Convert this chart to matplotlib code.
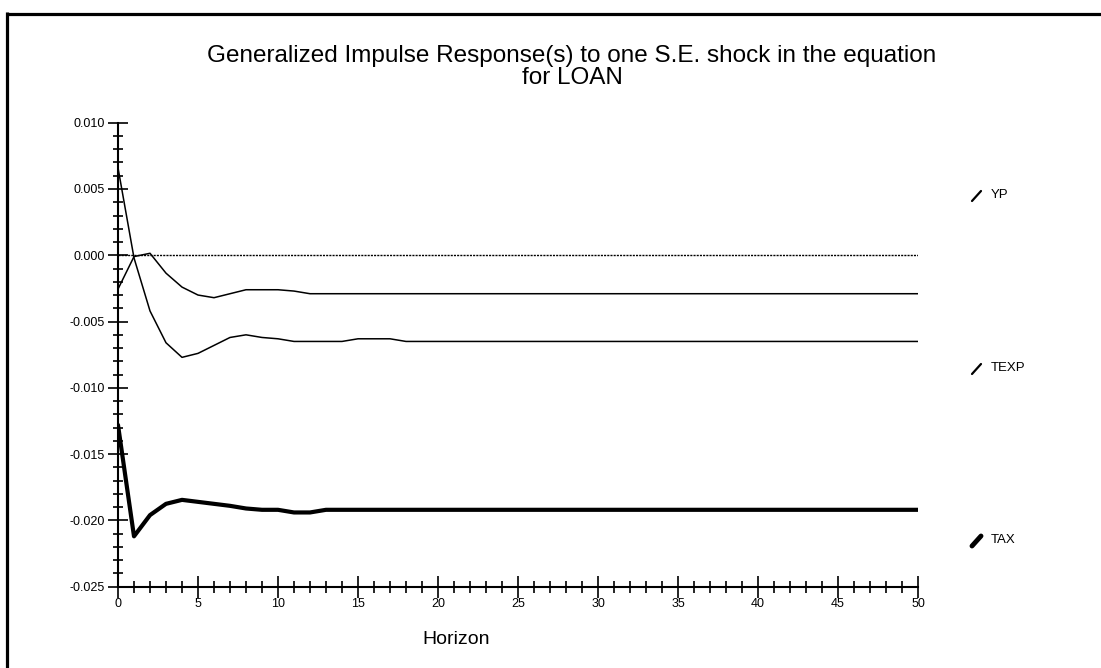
import matplotlib
matplotlib.use("Agg")
import matplotlib.pyplot as plt
from matplotlib.lines import Line2D
from matplotlib.ticker import MultipleLocator, FuncFormatter

plt.rcParams['font.family'] = ['Liberation Sans', 'DejaVu Sans']

title = "Generalized Impulse Response(s) to one S.E. shock in the equation\nfor LOAN"
xlabel = "Horizon"
series_names = ["YP", "TEXP", "TAX"]

horizon = list(range(51))
yp = [-0.00255, -0.0001, 0.00015, -0.00135, -0.0024, -0.0030, -0.0032, -0.0029,
      -0.0026, -0.0026, -0.0026, -0.0027, -0.0029, -0.0029, -0.0029, -0.0029,
      -0.0029, -0.0029, -0.0029, -0.0029, -0.0029, -0.0029, -0.0029, -0.0029,
      -0.0029, -0.0029, -0.0029, -0.0029, -0.0029, -0.0029, -0.0029, -0.0029,
      -0.0029, -0.0029, -0.0029, -0.0029, -0.0029, -0.0029, -0.0029, -0.0029,
      -0.0029, -0.0029, -0.0029, -0.0029, -0.0029, -0.0029, -0.0029, -0.0029,
      -0.0029, -0.0029, -0.0029]
texp = [0.0066, -0.0002, -0.0042, -0.0066, -0.0077, -0.0074, -0.0068, -0.0062,
        -0.0060, -0.0062, -0.0063, -0.0065, -0.0065, -0.0065, -0.0065, -0.0063,
        -0.0063, -0.0063, -0.0065, -0.0065, -0.0065, -0.0065, -0.0065, -0.0065,
        -0.0065, -0.0065, -0.0065, -0.0065, -0.0065, -0.0065, -0.0065, -0.0065,
        -0.0065, -0.0065, -0.0065, -0.0065, -0.0065, -0.0065, -0.0065, -0.0065,
        -0.0065, -0.0065, -0.0065, -0.0065, -0.0065, -0.0065, -0.0065, -0.0065,
        -0.0065, -0.0065, -0.0065]
tax = [-0.0128, -0.0212, -0.0196, -0.01875, -0.01845, -0.0186, -0.01875, -0.0189,
       -0.0191, -0.0192, -0.0192, -0.0194, -0.0194, -0.0192, -0.0192, -0.0192,
       -0.0192, -0.0192, -0.0192, -0.0192, -0.0192, -0.0192, -0.0192, -0.0192,
       -0.0192, -0.0192, -0.0192, -0.0192, -0.0192, -0.0192, -0.0192, -0.0192,
       -0.0192, -0.0192, -0.0192, -0.0192, -0.0192, -0.0192, -0.0192, -0.0192,
       -0.0192, -0.0192, -0.0192, -0.0192, -0.0192, -0.0192, -0.0192, -0.0192,
       -0.0192, -0.0192, -0.0192]
zero_line = [0.0] * 51

W, H = 1101, 668
fig = plt.figure(figsize=(W / 100, H / 100), dpi=100)
ax = fig.add_axes([118 / W, 1 - 586.7 / H, 800 / W, (586.7 - 122.7) / H])

ax.plot(horizon, zero_line, color='black', lw=1.0, ls=(0, (1.5, 0.8)))
ax.plot(horizon, yp, color='black', lw=1.1, solid_joinstyle='round')
ax.plot(horizon, texp, color='black', lw=1.1, solid_joinstyle='round')
ax.plot(horizon, tax, color='black', lw=3.0, solid_joinstyle='round', solid_capstyle='round')

ax.set_xlim(0, 50)
ax.set_ylim(-0.025, 0.010)
for s in ['top', 'right']:
    ax.spines[s].set_visible(False)
for s in ['left', 'bottom']:
    ax.spines[s].set_linewidth(1.5)

ax.xaxis.set_major_locator(MultipleLocator(5))
ax.xaxis.set_minor_locator(MultipleLocator(1))
ax.yaxis.set_major_locator(MultipleLocator(0.005))
ax.yaxis.set_minor_locator(MultipleLocator(0.001))
ax.yaxis.set_major_formatter(FuncFormatter(lambda v, p: "%.3f" % (round(v, 6) + 0.0)))

ax.tick_params(axis='y', which='major', direction='inout', length=15, width=1.2,
               labelsize=9, pad=2)
ax.tick_params(axis='y', which='minor', direction='inout', length=7, width=1.2)
ax.tick_params(axis='x', which='major', direction='inout', length=16, width=1.2,
               labelsize=9, pad=0)
ax.tick_params(axis='x', which='minor', direction='inout', length=8, width=1.2)

fig.text(572 / W, 1 - 67 / H, title, ha='center', va='center', fontsize=17.5,
         linespacing=1.0)
fig.text(456 / W, 1 - 640 / H, xlabel, ha='center', va='center', fontsize=14)

# legend
legend_y = [195, 368, 540]
legend_lw = [1.1, 1.1, 3.0]
for name, yy, lw in zip(series_names, legend_y, legend_lw):
    fig.add_artist(Line2D([972 / W, 981 / W], [1 - (yy + 6) / H, 1 - (yy - 4) / H],
                          color='black', lw=lw + 0.5, solid_capstyle='round'))
    fig.text(991 / W, 1 - yy / H, name, ha='left', va='center', fontsize=9.5)

# border (top and left)
fig.add_artist(Line2D([6 / W, 1.0], [1 - 13.5 / H, 1 - 13.5 / H], color='black', lw=2.3,
                      solid_capstyle='butt'))
fig.add_artist(Line2D([7.3 / W, 7.3 / W], [0, 1 - 12 / H], color='black', lw=2.3,
                      solid_capstyle='butt'))

fig.savefig('out.png', dpi=100)
